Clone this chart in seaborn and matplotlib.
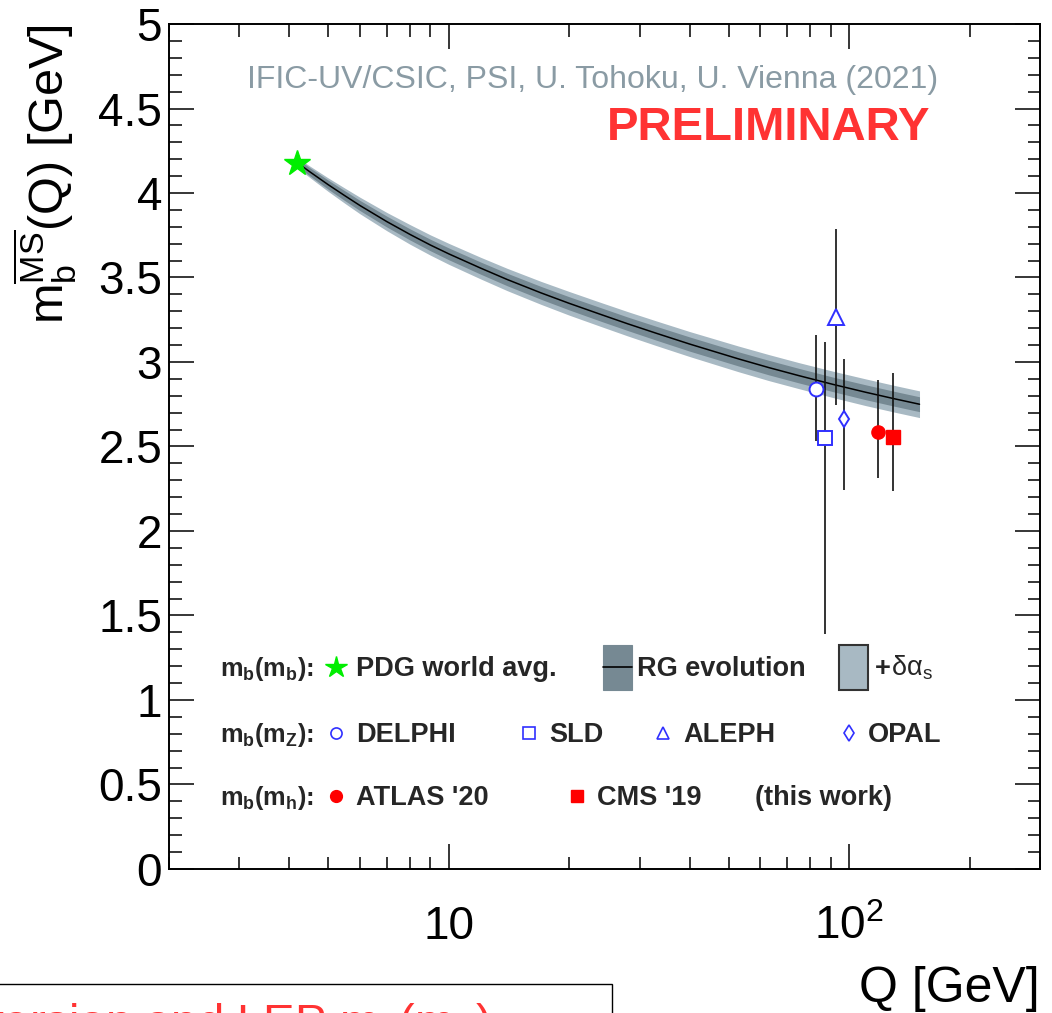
import numpy as np
import pandas as pd
import matplotlib
matplotlib.use("Agg")
import matplotlib.pyplot as plt
import seaborn as sns
from matplotlib.ticker import FixedLocator, MultipleLocator, NullFormatter, FixedFormatter, FormatStrFormatter
from matplotlib.patches import Rectangle

# ---------------- data ----------------
# RG evolution of mb(Q) (central curve and band half-widths)
rg_Q = [4.18, 4.5, 5, 5.5, 6, 7, 8, 9, 10, 12, 14, 17, 20, 24, 28, 33, 40, 53, 63, 75, 91, 110, 130, 150]
rg_mb = [4.180, 4.125, 4.049, 3.984, 3.926, 3.831, 3.755, 3.692, 3.640, 3.556, 3.488, 3.409,
         3.347, 3.281, 3.226, 3.170, 3.106, 3.018, 2.967, 2.919, 2.868, 2.821, 2.782, 2.750]
rg_inner = [0.022, 0.024, 0.027, 0.029, 0.030, 0.032, 0.033, 0.034, 0.035, 0.036, 0.037, 0.038,
            0.039, 0.040, 0.040, 0.041, 0.042, 0.042, 0.043, 0.043, 0.043, 0.044, 0.044, 0.044]
rg_outer = [0.030, 0.034, 0.040, 0.045, 0.049, 0.054, 0.058, 0.060, 0.062, 0.064, 0.066, 0.068,
            0.070, 0.071, 0.072, 0.073, 0.074, 0.076, 0.077, 0.077, 0.078, 0.079, 0.079, 0.079]

# PDG world average mb(mb)
pdg_Q = [4.18]
pdg_mb = [4.18]

# measurements (points displaced around mZ / mH for visibility)
exp_names = ["DELPHI", "SLD", "ALEPH", "OPAL", "ATLAS '20", "CMS '19"]
exp_Q = [82.6, 87.3, 92.8, 97.2, 118.4, 128.5]
exp_mb = [2.84, 2.55, 3.265, 2.665, 2.585, 2.555]
exp_err_up = [0.32, 0.57, 0.52, 0.35, 0.31, 0.38]
exp_err_dn = [0.31, 1.16, 0.52, 0.42, 0.27, 0.32]

y_ticks = [0, 0.5, 1, 1.5, 2, 2.5, 3, 3.5, 4, 4.5, 5]
x_ticks = [10, 100]
x_ticklabels = ["10", r"10$^2$"]

# ---------------- style ----------------
sns.set_theme(style="ticks")
plt.rcParams["font.family"] = ["Liberation Sans", "DejaVu Sans"]
plt.rcParams["mathtext.fontset"] = "custom"
plt.rcParams["mathtext.rm"] = "Liberation Sans"
plt.rcParams["mathtext.it"] = "Liberation Sans"
plt.rcParams["mathtext.bf"] = "Liberation Sans:bold"
plt.rcParams["mathtext.default"] = "regular"

BLUE = "#3030ff"
RED = "#ff0000"
GREEN = "#00ee00"
INNER = "#768993"
OUTER = "#a8b9c3"

fig = plt.figure(figsize=(10.52, 10.13), dpi=100)
ax = fig.add_axes([0.1606, 0.1422, 0.828, 0.8341])

df = pd.DataFrame({"Q": rg_Q, "mb": rg_mb, "inner": rg_inner, "outer": rg_outer})

ax.fill_between(df["Q"], df["mb"] - df["outer"], df["mb"] + df["outer"], color=OUTER, lw=0, zorder=1)
ax.fill_between(df["Q"], df["mb"] - df["inner"], df["mb"] + df["inner"], color=INNER, lw=0, zorder=2)
sns.lineplot(data=df, x="Q", y="mb", ax=ax, color="black", lw=1.1, zorder=3)

styles = [
    dict(marker="o", mfc="white", mec=BLUE, ms=10, mew=1.4),
    dict(marker="s", mfc="white", mec=BLUE, ms=10.5, mew=1.4),
    dict(marker="^", mfc="white", mec=BLUE, ms=11, mew=1.4),
    dict(marker="d", mfc="white", mec=BLUE, ms=8.5, mew=1.4),
    dict(marker="o", mfc=RED, mec=RED, ms=9.5, mew=1.0),
    dict(marker="s", mfc=RED, mec=RED, ms=10.5, mew=1.0),
]
for q, m, eu, ed, st in zip(exp_Q, exp_mb, exp_err_up, exp_err_dn, styles):
    ax.errorbar([q], [m], yerr=[[ed], [eu]], fmt="none", ecolor="#111111", elinewidth=1.2, capsize=0, zorder=4)
    ax.plot([q], [m], ls="none", zorder=5, **st)

ax.plot(pdg_Q, pdg_mb, ls="none", marker="*", ms=19, color=GREEN, mec=GREEN, zorder=6)

# ---------------- axes ----------------
ax.set_xscale("log")
ax.set_xlim(2, 300)
ax.set_ylim(0, 5)
ax.xaxis.set_major_locator(FixedLocator(x_ticks))
ax.xaxis.set_major_formatter(FixedFormatter(x_ticklabels))
minor_x = [v * d for d in (1, 10, 100) for v in range(2, 10) if 2 <= v * d <= 300]
ax.xaxis.set_minor_locator(FixedLocator(minor_x))
ax.xaxis.set_minor_formatter(NullFormatter())
ax.yaxis.set_major_locator(FixedLocator(y_ticks))
ax.yaxis.set_major_formatter(FormatStrFormatter("%g"))
ax.yaxis.set_minor_locator(MultipleLocator(0.1))

ax.tick_params(which="both", direction="in", top=True, right=True, color="black", width=1.1)
ax.tick_params(which="major", length=18)
ax.tick_params(which="minor", length=9)
ax.tick_params(axis="y", which="major", labelsize=33, pad=5, labelcolor="black")
ax.tick_params(axis="x", which="major", labelsize=33, pad=26, labelcolor="black")
for sp in ax.spines.values():
    sp.set_color("black")
    sp.set_linewidth(1.4)
ax.grid(False)

ax.set_xlabel("")
ax.set_ylabel(r"m$_b^{\overline{MS}}$(Q) [GeV]", fontsize=35, color="black", loc="top")
ax.yaxis.set_label_coords(-0.103, 1.0)
fig.text(0.9886, 0.011, "Q [GeV]", ha="right", va="baseline", fontsize=36, color="black")

# ---------------- annotations ----------------
ax.text(0.883, 0.9337, "IFIC-UV/CSIC, PSI, U. Tohoku, U. Vienna (2021)", transform=ax.transAxes,
        ha="right", va="center", fontsize=23, color="#8a9ba4")
ax.text(0.8737, 0.877, "PRELIMINARY", transform=ax.transAxes, ha="right", va="center",
        fontsize=34, fontweight="bold", color="#ff3333")

# ---------------- custom legend ----------------
def fx(px):
    return (px - 169) / 871.0

def fy(py):
    return (869 - py) / 845.0

T = ax.transAxes
lfs = 19.5
rows_base = [676, 742, 805]
for lab_s, yb in zip([r"m$_b$(m$_b$):", r"m$_b$(m$_Z$):", r"m$_b$(m$_h$):"], rows_base):
    ax.text(fx(220), fy(yb), lab_s, transform=T, fontsize=18.3, fontweight="bold", ha="left", va="baseline")

def key(px, yb, **kw):
    ax.plot([fx(px)], [fy(yb - 9)], transform=T, ls="none", clip_on=False, zorder=7, **kw)

def lab(px, yb, s, **kw):
    ax.text(fx(px), fy(yb), s, transform=T, fontsize=lfs, fontweight="bold", ha="left", va="baseline", **kw)

# row 1
key(336, rows_base[0], marker="*", ms=16, color=GREEN, mec=GREEN)
lab(356, rows_base[0], "PDG world avg.")
ax.add_patch(Rectangle((fx(603), fy(690)), fx(632) - fx(603), fy(645) - fy(690), transform=T,
                       facecolor=INNER, edgecolor=INNER, lw=0.8, zorder=7))
ax.plot([fx(603), fx(632)], [fy(667.5), fy(667.5)], transform=T, color="black", lw=1.2, zorder=8)
lab(637, rows_base[0], "RG evolution")
ax.add_patch(Rectangle((fx(839), fy(690)), fx(868) - fx(839), fy(645) - fy(690), transform=T,
                       facecolor=OUTER, edgecolor="#333333", lw=1.5, zorder=7))
lab(875, rows_base[0], "+")
ax.text(fx(891), fy(rows_base[0]), r"δα$_s$", transform=T, fontsize=lfs, ha="left", va="baseline")

# row 2
key(336, rows_base[1], marker="o", ms=8, mfc="white", mec=BLUE, mew=1.2)
lab(356, rows_base[1], "DELPHI")
key(529, rows_base[1], marker="s", ms=8.5, mfc="white", mec=BLUE, mew=1.2)
lab(549, rows_base[1], "SLD")
key(663, rows_base[1], marker="^", ms=9, mfc="white", mec=BLUE, mew=1.2)
lab(683, rows_base[1], "ALEPH")
key(849, rows_base[1], marker="d", ms=8, mfc="white", mec=BLUE, mew=1.2)
lab(868, rows_base[1], "OPAL")

# row 3
key(336, rows_base[2], marker="o", ms=8.5, mfc=RED, mec=RED)
lab(356, rows_base[2], "ATLAS '20")
key(577, rows_base[2], marker="s", ms=9, mfc=RED, mec=RED)
lab(597, rows_base[2], "CMS '19")
lab(755, rows_base[2], "(this work)")

# ---------------- cut-off box at bottom ----------------
fig.patches.append(Rectangle((-0.01, -0.06), 0.5917, 0.0886, transform=fig.transFigure,
                             facecolor="white", edgecolor="black", lw=1.0, zorder=0))
fig.text(0.466, -0.024, r"conversion and LEP m$_b$(m$_Z$)", ha="right", va="baseline",
         fontsize=34, color="#ff3333")

fig.savefig("out.png", dpi=100)
